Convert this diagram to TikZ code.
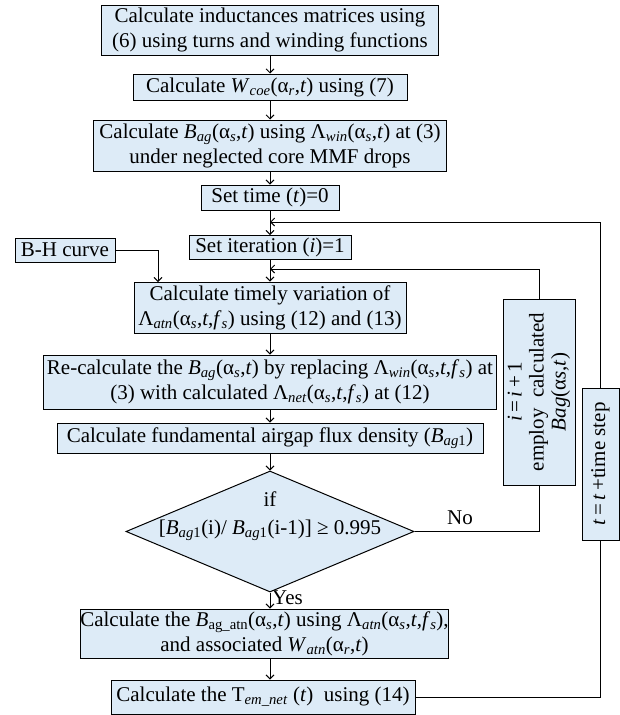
\documentclass[tikz,border=0pt]{standalone}
\usepackage{fontspec}
\setmainfont{Liberation Serif}
\usetikzlibrary{arrows.meta,shapes.geometric}
\definecolor{boxblue}{RGB}{221,235,247}
\newcommand{\isub}[1]{\textsubscript{\textit{#1}}}
\tikzset{
  txt/.style={font=\fontsize{21}{25}\selectfont},
  stepbox/.style={txt, draw, fill=boxblue, line width=1pt, align=center, inner sep=0pt},
  sidebox/.style={stepbox, rotate=90, font=\fontsize{21}{22}\selectfont},
  link/.style={line width=0.9pt},
  arr/.style={link, -{Straight Barb[length=4pt,width=8pt]}},
}
\begin{document}
\begin{tikzpicture}[x=1pt,y=-1pt]
\useasboundingbox (0,0) rectangle (620,715);
%Main column
\node[stepbox, minimum width=337pt, minimum height=50pt] (induct) at (270,30)
  {Calculate inductances matrices using\\(6) using turns and winding functions};
\node[stepbox, minimum width=274pt, minimum height=26pt] (coen) at (270,87)
  {Calculate \textit{W}\isub{coe}(α\isub{r},\textit{t}) using (7)};
\node[stepbox, minimum width=353pt, minimum height=51pt] (bag) at (270,145.5)
  {Calculate \textit{B}\isub{ag}(α\isub{s},\textit{t}) using Λ\isub{win}(α\isub{s},\textit{t}) at (3)\\under neglected core MMF drops};
\node[stepbox, minimum width=138pt, minimum height=25pt] (settime) at (270,197.5)
  {Set time (\textit{t})=0};
\node[stepbox, minimum width=162pt, minimum height=24pt] (setiter) at (270,247.5)
  {Set iteration (\textit{i})=1};
\node[stepbox, minimum width=272pt, minimum height=51pt] (timely) at (270,307.5)
  {Calculate timely variation of\\Λ\isub{atn}(α\isub{s},\textit{t},\textit{f}\isub{s}) using (12) and (13)};
\node[stepbox, minimum width=453pt, minimum height=54pt] (recalc) at (270,382)
  {Re-calculate the \textit{B}\isub{ag}(α\isub{s},\textit{t}) by replacing Λ\isub{win}(α\isub{s},\textit{t},\textit{f}\isub{s}) at\\(3) with calculated Λ\isub{net}(α\isub{s},\textit{t},\textit{f}\isub{s}) at (12)};
\node[stepbox, minimum width=426pt, minimum height=30pt] (fund) at (270,438)
  {Calculate fundamental airgap flux density (\textit{B}\textsubscript{\textit{ag}1})};
%Decision
\node[diamond, draw, fill=boxblue, line width=1pt, inner sep=0pt,
  minimum width=288pt, minimum height=121pt] (cond) at (270,531.5) {};
\node[txt] (condif) at (270,499) {if};
\node[txt] (condtxt) at (270,530)
  {[\textit{B}\textsubscript{\textit{ag}1}(i)/ \textit{B}\textsubscript{\textit{ag}1}(i-1)] ≥ 0.995};
\node[stepbox, minimum width=361pt, minimum height=49pt] (atn) at (264.5,633.5)
  {Calculate the \textit{B}\textsubscript{ag\_atn}(α\isub{s},\textit{t}) using Λ\isub{atn}(α\isub{s},\textit{t},\textit{f}\isub{s}),\\and associated \textit{W}\isub{atn}(α\isub{r},\textit{t})};
\node[stepbox, minimum width=304pt, minimum height=34pt] (torque) at (263,697)
  {Calculate the T\isub{em\_net} (\textit{t})\ \ using (14)};
%Side boxes
\node[stepbox, minimum width=100pt, minimum height=24pt] (bh) at (65,250) {B-H curve};
\node[sidebox, minimum width=186pt, minimum height=72pt] (istep) at (539,392)
  {\textit{i}\,=\,\textit{i}\,+\,1\\employ\ \ calculated\\\textit{Bag}(α\textit{s},\textit{t})};
\node[sidebox, minimum width=152pt, minimum height=37pt] (tstep) at (600.5,464)
  {\textit{t}\,=\,\textit{t}\,+time step};
%Labels
\node[txt] (nolbl) at (460,518) {No};
\node[txt, anchor=west, inner sep=0pt] (yeslbl) at (272,598) {Yes};
%Joins
\coordinate (tjoin) at (270,222);
\coordinate (ijoin) at (270,269);
\coordinate (bhin) at (158,282);

%Links down the column
\draw[arr] (induct) -- (coen);
\draw[arr] (coen) -- (bag);
\draw[arr] (bag) -- (settime);
\draw[arr] (settime) -- (setiter);
\draw[arr] (setiter) -- (timely);
\draw[arr] (timely) -- (recalc);
\draw[arr] (recalc) -- (fund);
\draw[arr] (fund) -- (cond);
\draw[arr] (cond.south) -- (cond.south |- atn.north);
\draw[arr] (atn.south -| cond.south) -- (torque.north -| cond.south);
%Loops
\draw[arr] (bh.east) -| (bhin);
\draw[link] (cond.east) -| (istep.west);
\draw[arr] (istep.east) |- (ijoin);
\draw[link] (torque.east) -| (tstep.west);
\draw[arr] (tstep.east) |- (tjoin);
\end{tikzpicture}
\end{document}
